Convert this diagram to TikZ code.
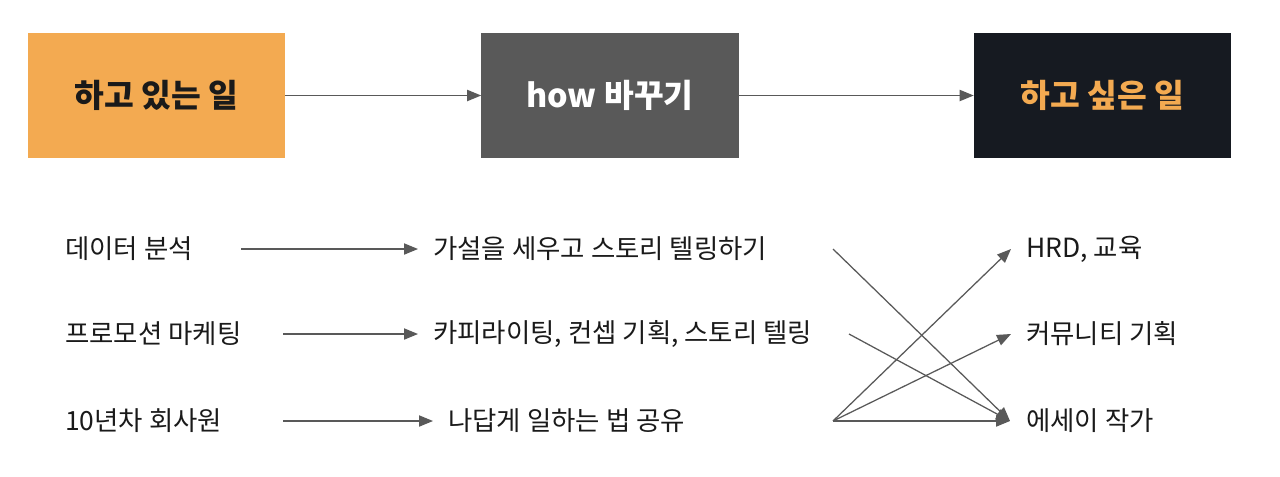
\documentclass[tikz,border=0pt]{standalone}
\usepackage{fontspec}
\setmainfont{Noto Sans CJK KR}
\usetikzlibrary{arrows.meta,calc}

\definecolor{nowcol}{HTML}{F3AA51}
\definecolor{howcol}{HTML}{595959}
\definecolor{wantcol}{HTML}{161A21}
\definecolor{linecol}{HTML}{595959}
\definecolor{txtcol}{HTML}{1A1A1A}

\tikzset{
  bigbox/.style={minimum width=6.425cm, minimum height=3.125cm, inner sep=0pt,
    font=\fontsize{23}{28}\selectfont\bfseries},
  item/.style={anchor=west, inner sep=0pt, text=txtcol,
    font=\fontsize{18.8}{22}\selectfont},
  arr/.style={-{Triangle[length=0.35cm,width=0.28cm]}, line width=0.9pt, draw=linecol},
}

\begin{document}
\begin{tikzpicture}[x=0.025cm, y=-0.025cm]
\useasboundingbox (0,0) rectangle (1280,476);

% top row
\node[bigbox, fill=nowcol, text=txtcol] (now) at (156.5,95.5) {하고 있는 일};
\node[bigbox, fill=howcol, text=white] (how) at (610,95.5) {how 바꾸기};
\node[bigbox, fill=wantcol, text=nowcol] (want) at (1102.5,95.5) {하고 싶은 일};

\draw[arr] (now) -- (how);
\draw[arr] (how) -- (want);

% bottom rows
\node[item] (d1) at (65,249) {데이터 분석};
\node[item] (d2) at (65,334) {프로모션 마케팅};
\node[item] (d3) at (65,421) {10년차 회사원};

\node[item] (m1) at (433,249) {가설을 세우고 스토리 텔링하기};
\node[item] (m2) at (433,334) {카피라이팅, 컨셉 기획, 스토리 텔링};
\node[item] (m3) at (448,421) {나답게 일하는 법 공유};

\node[item] (w1) at (1026,249) {HRD, 교육};
\node[item] (w2) at (1026,334) {커뮤니티 기획};
\node[item] (w3) at (1026,421) {에세이 작가};

\coordinate (s1) at (241,249);
\coordinate (s2) at (283,334);
\coordinate (s3) at (283,421);
\coordinate (c1) at (833,249);
\coordinate (c2) at (849,334);
\coordinate (c3) at (833,421);

\draw[arr] (s1) -- ($(m1.west)+(-15,0)$);
\draw[arr] (s2) -- ($(m2.west)+(-15,0)$);
\draw[arr] (s3) -- ($(m3.west)+(-15,0)$);

\draw[arr] (c1) -- ($(w3.west)+(-16,0)$);
\draw[arr] (c2) -- ($(w3.west)+(-16,0)$);
\draw[arr] (c3) -- ($(w1.west)+(-15,0)$);
\draw[arr] (c3) -- ($(w2.west)+(-15,0)$);
\draw[arr] (c3) -- ($(w3.west)+(-16,0)$);
\end{tikzpicture}
\end{document}
